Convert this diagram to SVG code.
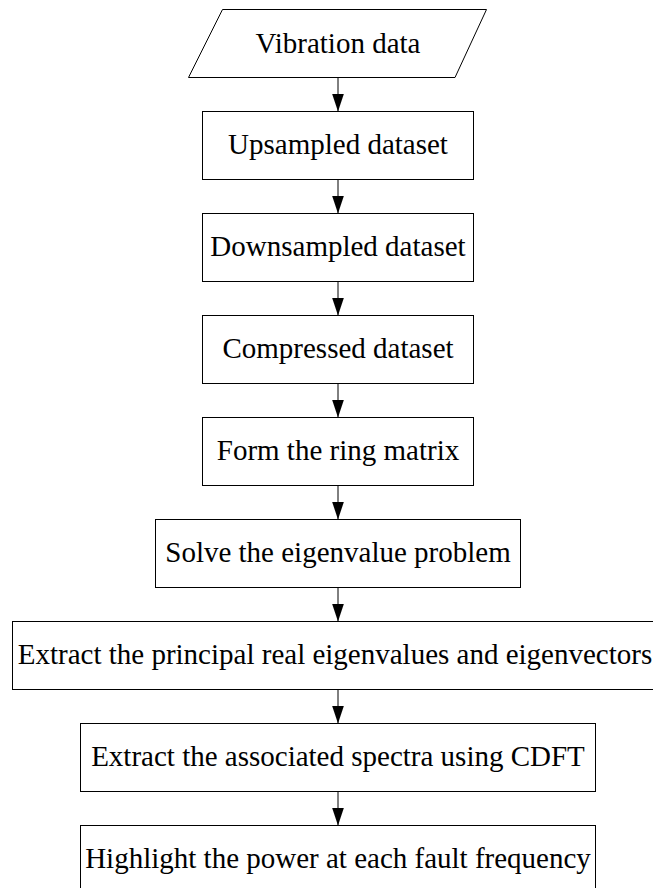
<svg xmlns="http://www.w3.org/2000/svg" width="653" height="888" viewBox="0 0 653 888">
<defs>
<style>
.n{fill:#fff;stroke:#000;stroke-width:1}
.t{font-family:"Liberation Serif","Times New Roman",serif;font-size:29px;text-anchor:middle;fill:#000}
.c{stroke:#000;stroke-width:1;fill:none;marker-end:url(#ah)}
</style>
<marker id="ah" markerUnits="userSpaceOnUse" markerWidth="18" markerHeight="12" refX="18" refY="6" orient="auto">
<path d="M0,0 L18,6 L0,12 z" fill="#000"/>
</marker>
</defs>
<rect width="653" height="888" fill="#fff"/>
<g id="connectors">
<line class="c" x1="338" y1="77.5" x2="338" y2="111.5"/>
<line class="c" x1="338" y1="179.5" x2="338" y2="213.5"/>
<line class="c" x1="338" y1="281.5" x2="338" y2="315.5"/>
<line class="c" x1="338" y1="383.5" x2="338" y2="417.5"/>
<line class="c" x1="338" y1="485.5" x2="338" y2="519.5"/>
<line class="c" x1="338" y1="587.5" x2="338" y2="621.5"/>
<line class="c" x1="338" y1="689.5" x2="338" y2="723.5"/>
<line class="c" x1="338" y1="791.5" x2="338" y2="825.5"/>
</g>
<g id="n0">
<polygon class="n" points="222.5,9.5 486.5,9.5 455,77.5 188.5,77.5"/>
<text class="t" x="338" y="53">Vibration data</text>
</g>
<g id="n1">
<rect class="n" x="202.5" y="111.5" width="271" height="68"/>
<text class="t" x="338" y="154">Upsampled dataset</text>
</g>
<g id="n2">
<rect class="n" x="202.5" y="213.5" width="271" height="68"/>
<text class="t" x="338" y="256">Downsampled dataset</text>
</g>
<g id="n3">
<rect class="n" x="202.5" y="315.5" width="271" height="68"/>
<text class="t" x="338" y="358">Compressed dataset</text>
</g>
<g id="n4">
<rect class="n" x="202.5" y="417.5" width="271" height="68"/>
<text class="t" x="338" y="460">Form the ring matrix</text>
</g>
<g id="n5">
<rect class="n" x="155.5" y="519.5" width="365" height="68"/>
<text class="t" x="338" y="562">Solve the eigenvalue problem</text>
</g>
<g id="n6">
<rect class="n" x="12.5" y="621.5" width="652" height="68"/>
<text class="t" x="335" y="664">Extract the principal real eigenvalues and eigenvectors</text>
</g>
<g id="n7">
<rect class="n" x="80.5" y="723.5" width="515" height="68"/>
<text class="t" x="338" y="766">Extract the associated spectra using CDFT</text>
</g>
<g id="n8">
<rect class="n" x="80.5" y="825.5" width="515" height="68"/>
<text class="t" x="338" y="868">Highlight the power at each fault frequency</text>
</g>
</svg>
